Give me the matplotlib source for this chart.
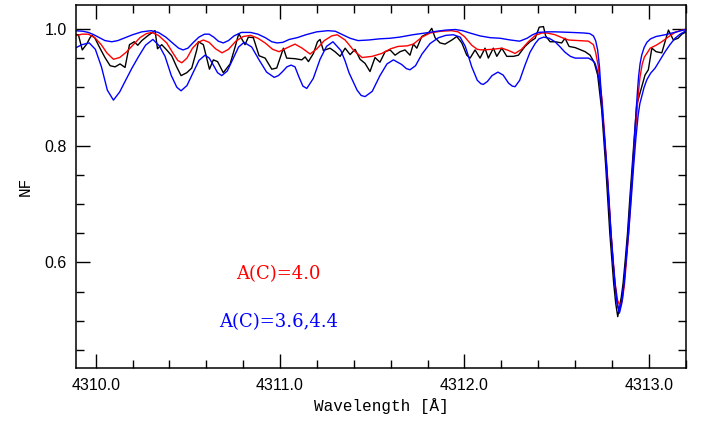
import numpy as np
import matplotlib.pyplot as plt
from matplotlib.ticker import MultipleLocator, FormatStrFormatter

# observed spectrum: (wavelength, normalised flux)
obs = [
    (4309.896, 0.990), (4309.906, 0.990), (4309.927, 0.964), (4309.951, 0.974), (4309.969, 0.985),
    (4309.980, 0.989), (4309.996, 0.984), (4310.023, 0.967), (4310.050, 0.951), (4310.078, 0.937),
    (4310.105, 0.935), (4310.132, 0.940), (4310.159, 0.934), (4310.183, 0.973), (4310.209, 0.978),
    (4310.228, 0.972), (4310.250, 0.980), (4310.285, 0.989), (4310.322, 0.997), (4310.335, 0.966),
    (4310.358, 0.973), (4310.385, 0.964), (4310.412, 0.954), (4310.439, 0.935), (4310.463, 0.920),
    (4310.494, 0.925), (4310.521, 0.933), (4310.548, 0.964), (4310.557, 0.978), (4310.584, 0.973),
    (4310.617, 0.931), (4310.638, 0.947), (4310.661, 0.944), (4310.692, 0.925), (4310.729, 0.940),
    (4310.756, 0.969), (4310.776, 0.992), (4310.810, 0.973), (4310.828, 0.986), (4310.855, 0.985),
    (4310.886, 0.954), (4310.919, 0.950), (4310.955, 0.931), (4310.982, 0.933), (4311.018, 0.967),
    (4311.036, 0.950), (4311.081, 0.949), (4311.118, 0.947), (4311.136, 0.952), (4311.154, 0.944),
    (4311.181, 0.958), (4311.203, 0.978), (4311.217, 0.982), (4311.235, 0.963), (4311.271, 0.967),
    (4311.298, 0.961), (4311.326, 0.953), (4311.353, 0.967), (4311.380, 0.956), (4311.407, 0.965),
    (4311.434, 0.948), (4311.461, 0.941), (4311.488, 0.927), (4311.515, 0.951), (4311.542, 0.943),
    (4311.570, 0.961), (4311.597, 0.964), (4311.624, 0.955), (4311.651, 0.961), (4311.678, 0.964),
    (4311.705, 0.955), (4311.723, 0.974), (4311.742, 0.967), (4311.769, 0.987), (4311.805, 0.993),
    (4311.823, 1.001), (4311.841, 0.985), (4311.868, 0.976), (4311.895, 0.974), (4311.932, 0.981),
    (4311.959, 0.987), (4311.986, 0.976), (4312.013, 0.955), (4312.031, 0.950), (4312.058, 0.964),
    (4312.085, 0.950), (4312.112, 0.967), (4312.130, 0.950), (4312.157, 0.967), (4312.176, 0.953),
    (4312.203, 0.967), (4312.230, 0.953), (4312.266, 0.953), (4312.293, 0.955), (4312.329, 0.970),
    (4312.356, 0.978), (4312.384, 0.984), (4312.406, 1.003), (4312.429, 1.004), (4312.441, 0.988),
    (4312.465, 0.978), (4312.492, 0.978), (4312.528, 0.976), (4312.546, 0.984), (4312.568, 0.970),
    (4312.601, 0.968), (4312.655, 0.961), (4312.682, 0.955), (4312.704, 0.943), (4312.723, 0.921),
    (4312.745, 0.861), (4312.756, 0.812), (4312.767, 0.764), (4312.778, 0.707), (4312.789, 0.650),
    (4312.800, 0.605), (4312.810, 0.564), (4312.821, 0.530), (4312.832, 0.507), (4312.842, 0.525),
    (4312.851, 0.540), (4312.861, 0.564), (4312.873, 0.605), (4312.885, 0.650), (4312.897, 0.707),
    (4312.910, 0.764), (4312.923, 0.820), (4312.935, 0.870), (4312.962, 0.901), (4312.980, 0.921),
    (4312.998, 0.930), (4313.017, 0.967), (4313.040, 0.961), (4313.071, 0.959), (4313.107, 0.998),
    (4313.134, 0.981), (4313.159, 0.984), (4313.180, 0.991), (4313.203, 0.995),
]

# synthetic spectrum, A(C)=4.0
syn40 = [
    (4309.888, 0.988), (4309.925, 0.991), (4309.960, 0.991), (4309.995, 0.985), (4310.030, 0.973),
    (4310.060, 0.959), (4310.096, 0.948), (4310.130, 0.951), (4310.165, 0.960), (4310.204, 0.973),
    (4310.240, 0.985), (4310.275, 0.992), (4310.304, 0.994), (4310.340, 0.989), (4310.385, 0.976),
    (4310.420, 0.958), (4310.445, 0.946), (4310.467, 0.942), (4310.495, 0.950), (4310.525, 0.967),
    (4310.555, 0.977), (4310.584, 0.981), (4310.615, 0.977), (4310.650, 0.966), (4310.685, 0.959),
    (4310.720, 0.965), (4310.760, 0.979), (4310.800, 0.987), (4310.840, 0.989), (4310.880, 0.984),
    (4310.919, 0.976), (4310.960, 0.965), (4310.995, 0.961), (4311.040, 0.968), (4311.081, 0.974),
    (4311.120, 0.967), (4311.163, 0.957), (4311.200, 0.966), (4311.240, 0.980), (4311.280, 0.988),
    (4311.310, 0.990), (4311.353, 0.981), (4311.400, 0.963), (4311.445, 0.951), (4311.500, 0.953),
    (4311.552, 0.958), (4311.600, 0.966), (4311.640, 0.970), (4311.690, 0.971), (4311.723, 0.974),
    (4311.770, 0.986), (4311.814, 0.993), (4311.870, 0.996), (4311.930, 0.997), (4311.966, 0.995),
    (4312.000, 0.987), (4312.040, 0.972), (4312.070, 0.965), (4312.094, 0.964), (4312.150, 0.965),
    (4312.203, 0.967), (4312.240, 0.963), (4312.275, 0.958), (4312.310, 0.965), (4312.347, 0.978),
    (4312.385, 0.989), (4312.420, 0.993), (4312.450, 0.993), (4312.492, 0.990), (4312.530, 0.985),
    (4312.565, 0.981), (4312.620, 0.980), (4312.673, 0.979), (4312.700, 0.973), (4312.712, 0.960),
    (4312.727, 0.935), (4312.737, 0.905), (4312.747, 0.878), (4312.760, 0.822), (4312.773, 0.764),
    (4312.785, 0.707), (4312.796, 0.650), (4312.807, 0.605), (4312.818, 0.564), (4312.831, 0.535),
    (4312.845, 0.525), (4312.858, 0.537), (4312.869, 0.564), (4312.880, 0.606), (4312.891, 0.650),
    (4312.903, 0.707), (4312.915, 0.764), (4312.926, 0.815), (4312.937, 0.861), (4312.945, 0.893),
    (4312.953, 0.918), (4312.965, 0.940), (4312.977, 0.952), (4312.990, 0.958), (4313.008, 0.967),
    (4313.040, 0.972), (4313.071, 0.978), (4313.105, 0.986), (4313.143, 0.994), (4313.180, 0.998),
    (4313.203, 0.9995),
]

# synthetic spectrum, A(C)=3.6
syn36 = [
    (4309.888, 0.997), (4309.930, 0.996), (4309.960, 0.994), (4309.990, 0.990), (4310.020, 0.985),
    (4310.050, 0.980), (4310.087, 0.978), (4310.120, 0.980), (4310.160, 0.985), (4310.200, 0.990),
    (4310.250, 0.995), (4310.300, 0.997), (4310.340, 0.994), (4310.380, 0.986), (4310.420, 0.975),
    (4310.450, 0.967), (4310.474, 0.964), (4310.500, 0.967), (4310.530, 0.977), (4310.560, 0.986),
    (4310.590, 0.991), (4310.615, 0.991), (4310.640, 0.986), (4310.665, 0.979), (4310.692, 0.976),
    (4310.720, 0.980), (4310.750, 0.988), (4310.790, 0.994), (4310.840, 0.994), (4310.880, 0.991),
    (4310.920, 0.985), (4310.955, 0.978), (4310.984, 0.976), (4311.015, 0.977), (4311.050, 0.982),
    (4311.093, 0.985), (4311.140, 0.990), (4311.199, 0.995), (4311.260, 0.997), (4311.300, 0.996),
    (4311.340, 0.990), (4311.380, 0.984), (4311.423, 0.980), (4311.480, 0.981), (4311.540, 0.983),
    (4311.597, 0.984), (4311.650, 0.986), (4311.720, 0.990), (4311.787, 0.993), (4311.850, 0.996),
    (4311.900, 0.998), (4311.950, 0.999), (4311.990, 0.997), (4312.030, 0.993), (4312.085, 0.988),
    (4312.140, 0.985), (4312.194, 0.984), (4312.250, 0.981), (4312.300, 0.979), (4312.340, 0.984),
    (4312.370, 0.990), (4312.400, 0.994), (4312.450, 0.995), (4312.492, 0.995), (4312.580, 0.994),
    (4312.650, 0.993), (4312.680, 0.992), (4312.700, 0.988), (4312.712, 0.980), (4312.723, 0.964),
    (4312.733, 0.935), (4312.741, 0.895), (4312.756, 0.830), (4312.771, 0.764), (4312.783, 0.707),
    (4312.795, 0.650), (4312.806, 0.604), (4312.817, 0.564), (4312.829, 0.528), (4312.841, 0.513),
    (4312.854, 0.530), (4312.866, 0.564), (4312.877, 0.605), (4312.888, 0.650), (4312.900, 0.706),
    (4312.913, 0.764), (4312.923, 0.815), (4312.932, 0.861), (4312.939, 0.893), (4312.945, 0.918),
    (4312.953, 0.940), (4312.962, 0.955), (4312.975, 0.968), (4312.990, 0.977), (4313.010, 0.983),
    (4313.040, 0.987), (4313.089, 0.990), (4313.140, 0.994), (4313.188, 0.998), (4313.203, 0.999),
]

# synthetic spectrum, A(C)=4.4
syn44 = [
    (4309.888, 0.967), (4309.925, 0.973), (4309.965, 0.976), (4309.998, 0.965), (4310.031, 0.935),
    (4310.063, 0.895), (4310.096, 0.878), (4310.130, 0.892), (4310.159, 0.910), (4310.195, 0.932),
    (4310.231, 0.952), (4310.270, 0.972), (4310.310, 0.982), (4310.345, 0.971), (4310.376, 0.953),
    (4310.410, 0.920), (4310.440, 0.900), (4310.463, 0.894), (4310.495, 0.903), (4310.528, 0.925),
    (4310.560, 0.946), (4310.593, 0.955), (4310.616, 0.950), (4310.638, 0.938), (4310.661, 0.925),
    (4310.684, 0.920), (4310.714, 0.928), (4310.745, 0.949), (4310.775, 0.969), (4310.805, 0.977),
    (4310.846, 0.969), (4310.886, 0.947), (4310.927, 0.926), (4310.968, 0.917), (4310.991, 0.920),
    (4311.014, 0.927), (4311.037, 0.935), (4311.060, 0.938), (4311.081, 0.935), (4311.102, 0.918),
    (4311.124, 0.902), (4311.145, 0.898), (4311.180, 0.915), (4311.217, 0.948), (4311.252, 0.970),
    (4311.287, 0.978), (4311.330, 0.963), (4311.353, 0.945), (4311.374, 0.925), (4311.418, 0.895),
    (4311.440, 0.886), (4311.461, 0.884), (4311.500, 0.893), (4311.542, 0.920), (4311.580, 0.940),
    (4311.615, 0.947), (4311.660, 0.939), (4311.685, 0.932), (4311.705, 0.930), (4311.735, 0.937),
    (4311.770, 0.957), (4311.814, 0.975), (4311.860, 0.985), (4311.900, 0.989), (4311.940, 0.990),
    (4311.977, 0.986), (4312.005, 0.970), (4312.040, 0.935), (4312.070, 0.912), (4312.090, 0.906),
    (4312.103, 0.905), (4312.125, 0.910), (4312.150, 0.920), (4312.182, 0.926), (4312.210, 0.921),
    (4312.240, 0.907), (4312.260, 0.902), (4312.275, 0.901), (4312.300, 0.912), (4312.329, 0.938),
    (4312.356, 0.960), (4312.384, 0.975), (4312.405, 0.983), (4312.430, 0.986), (4312.460, 0.984),
    (4312.492, 0.978), (4312.520, 0.969), (4312.546, 0.960), (4312.575, 0.953), (4312.601, 0.950),
    (4312.640, 0.950), (4312.673, 0.950), (4312.695, 0.946), (4312.709, 0.941), (4312.720, 0.930),
    (4312.731, 0.913), (4312.740, 0.890), (4312.747, 0.861), (4312.760, 0.815), (4312.772, 0.764),
    (4312.784, 0.707), (4312.795, 0.650), (4312.806, 0.604), (4312.816, 0.564), (4312.828, 0.533),
    (4312.840, 0.515), (4312.853, 0.533), (4312.866, 0.564), (4312.878, 0.606), (4312.891, 0.650),
    (4312.905, 0.708), (4312.918, 0.764), (4312.931, 0.815), (4312.943, 0.853), (4312.952, 0.872),
    (4312.962, 0.884), (4312.975, 0.900), (4312.990, 0.913), (4313.010, 0.924), (4313.035, 0.933),
    (4313.060, 0.946), (4313.089, 0.961), (4313.115, 0.973), (4313.143, 0.984), (4313.170, 0.991),
    (4313.203, 0.997),
]

label_40 = 'A(C)=4.0'
label_36_44 = 'A(C)=3.6,4.4'

obs = np.array(obs)
syn40 = np.array(syn40)
syn36 = np.array(syn36)
syn44 = np.array(syn44)

fig = plt.figure(figsize=(7.02, 4.23), dpi=100)
ax = fig.add_axes([0.1088, 0.130, 0.8678, 0.8582])

ax.plot(obs[:, 0], obs[:, 1], color='black', lw=1.0)
ax.plot(syn40[:, 0], syn40[:, 1], color='#ff0000', lw=1.0)
ax.plot(syn36[:, 0], syn36[:, 1], color='#0000ff', lw=1.0)
ax.plot(syn44[:, 0], syn44[:, 1], color='#0000ff', lw=1.0)

ax.text(4310.99, 0.580, label_40, color='#ff0000', ha='center', va='center',
        family='DejaVu Serif', fontsize=13)
ax.text(4310.99, 0.497, label_36_44, color='#0000ff', ha='center', va='center',
        family='DejaVu Serif', fontsize=13)

ax.set_xlim(4309.895, 4313.2)
ax.set_ylim(0.419, 1.041)

ax.xaxis.set_major_locator(MultipleLocator(1.0))
ax.xaxis.set_minor_locator(MultipleLocator(0.2))
ax.yaxis.set_major_locator(MultipleLocator(0.2))
ax.yaxis.set_minor_locator(MultipleLocator(0.05))
ax.xaxis.set_major_formatter(FormatStrFormatter('%.1f'))
ax.yaxis.set_major_formatter(FormatStrFormatter('%.1f'))

ax.tick_params(which='both', direction='in', top=True, right=True, width=1.0)
ax.tick_params(which='major', length=10, pad=7)
ax.tick_params(which='minor', length=6)
for lab in ax.get_xticklabels() + ax.get_yticklabels():
    lab.set_family('Liberation Sans')
    lab.set_fontsize(11.5)
for sp in ax.spines.values():
    sp.set_linewidth(1.1)

ax.set_xlabel('Wavelength [Å]', family='Liberation Mono', fontsize=11.5, labelpad=4)
ax.set_ylabel('NF', family='Liberation Mono', fontsize=11.5, labelpad=8)

fig.savefig('out.png', dpi=100)
